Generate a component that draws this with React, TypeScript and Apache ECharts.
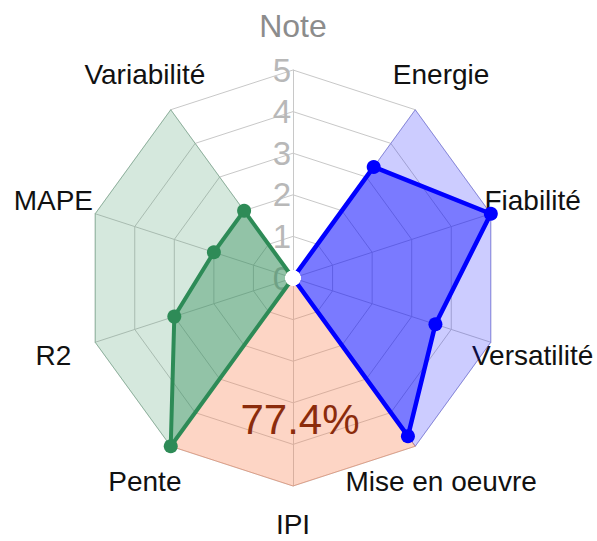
import React, { useEffect, useRef } from "react";
import * as echarts from "echarts";

// Axes listed clockwise from the top
const categories = ["Note", "Energie", "Fiabilité", "Versatilité", "Mise en oeuvre", "IPI", "Pente", "R2", "MAPE", "Variabilité"];
const performanceValues = [0, 3.3, 5, 3.6, 4.7, 0, 0, 0, 0, 0];
const modelValues = [0, 0, 0, 0, 0, 0, 5, 3, 2, 2];
const zoneBlue = [0, 5, 5, 5, 5, 0, 0, 0, 0, 0];
const zoneSalmon = [0, 0, 0, 0, 5, 5, 5, 0, 0, 0];
const zoneGreen = [0, 0, 0, 0, 0, 0, 5, 5, 5, 5];
const centerValues = [0, 0, 0, 0, 0, 0, 0, 0, 0, 0];
const radialMin = 0;
const radialMax = 5;
const radialSplits = 5;
const scoreLabel = "77.4%";

const FONT = "'Liberation Sans', Arial, sans-serif";

// ECharts radar places indicators counter-clockwise; reorder so they read clockwise
const ccw = <T,>(arr: T[]): T[] => [arr[0], ...arr.slice(1).reverse()];

export default function App() {
  const ref = useRef<HTMLDivElement>(null);
  useEffect(() => {
    if (!ref.current) return;
    const chart = echarts.init(ref.current, null, { renderer: "svg" });
    const names = ccw(categories);
    const option: any = {
      animation: false,
      backgroundColor: "#ffffff",
      radar: {
        center: [293, 278],
        radius: 208,
        startAngle: 90,
        splitNumber: radialSplits,
        shape: "polygon",
        indicator: names.map((name, i) => {
          if (i === 0) {
            return {
              name,
              min: radialMin,
              max: radialMax,
              color: "#8c8c8c",
              nameTextStyle: { fontSize: 32 },
              axisLabel: {
                show: true,
                fontSize: 33,
                fontFamily: FONT,
                color: "#b8b8b8",
                align: "right",
                verticalAlign: "middle",
                margin: 2,
              },
            };
          }
          return { name, min: radialMin, max: radialMax };
        }),
        axisName: {
          fontSize: 28,
          fontFamily: FONT,
          color: "#111111",
          align: "center",
          verticalAlign: "middle",
          formatter: (name: string) => (name === "IPI" ? "{low|" + name + "}" : name),
          rich: {
            low: {
              fontSize: 28,
              fontFamily: FONT,
              color: "#111111",
              padding: [0, 0, 12, 0],
            },
          },
        },
        axisNameGap: 44,
        axisLine: { lineStyle: { color: "#c8c8c8", width: 1 } },
        splitLine: { lineStyle: { color: "#c8c8c8", width: 1 } },
        splitArea: { show: false },
        axisTick: { show: false },
        axisLabel: { show: false },
      },
      graphic: [
        {
          type: "text",
          x: 300,
          y: 419,
          z: 10,
          style: {
            text: scoreLabel,
            fontSize: 42,
            fontFamily: FONT,
            fill: "#8b2c0c",
            align: "center",
            verticalAlign: "middle",
          },
        },
      ],
      series: [
        {
          type: "radar",
          symbol: "none",
          data: [
            {
              value: ccw(zoneGreen),
              areaStyle: { color: "rgba(46,139,87,0.2)", opacity: 1 },
              lineStyle: { color: "rgba(46,139,87,0.3)", width: 1 },
            },
            {
              value: ccw(zoneBlue),
              areaStyle: { color: "rgba(0,0,255,0.2)", opacity: 1 },
              lineStyle: { color: "rgba(0,0,255,0.25)", width: 1 },
            },
            {
              value: ccw(zoneSalmon),
              areaStyle: { color: "rgba(250,128,80,0.33)", opacity: 1 },
              lineStyle: { color: "rgba(230,120,80,0.4)", width: 1 },
            },
          ],
        },
        {
          type: "radar",
          symbol: "circle",
          symbolSize: 14,
          data: [
            {
              value: ccw(modelValues),
              itemStyle: { color: "#2e8b57" },
              lineStyle: { color: "#2e8b57", width: 4 },
              areaStyle: { color: "rgba(46,139,87,0.4)", opacity: 1 },
            },
            {
              value: ccw(performanceValues),
              itemStyle: { color: "#0000ff" },
              lineStyle: { color: "#0000ff", width: 4.5 },
              areaStyle: { color: "rgba(0,0,255,0.4)", opacity: 1 },
            },
          ],
        },
        {
          type: "radar",
          z: 5,
          symbol: "circle",
          symbolSize: 15,
          data: [
            {
              value: centerValues,
              itemStyle: { color: "#ffffff" },
              lineStyle: { width: 0, opacity: 0 },
            },
          ],
        },
      ],
    };
    chart.setOption(option);
    return () => chart.dispose();
  }, []);
  return (
    <div
      ref={ref}
      style={{ position: "fixed", left: 0, top: 0, width: 597, height: 541, background: "#fff" }}
    />
  );
}
